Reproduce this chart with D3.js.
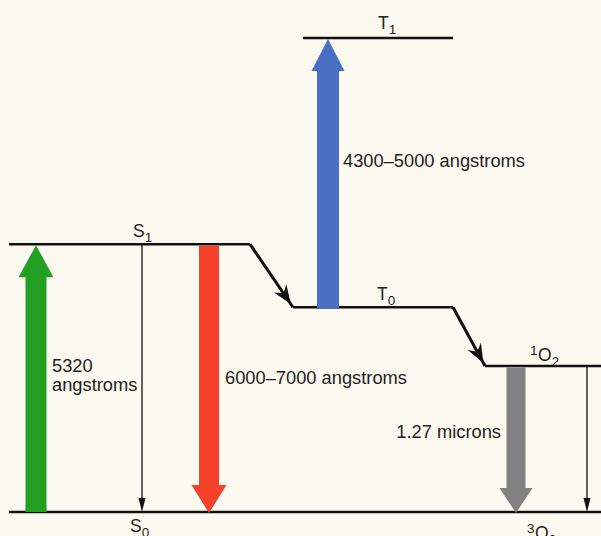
<!DOCTYPE html>
<html>
<head>
<meta charset="utf-8">
<script src="https://cdn.jsdelivr.net/npm/d3@7"></script>
<style>
  body { margin: 0; background: #fcf9f0; }
  svg { display: block; font-family: "Liberation Sans", Arial, sans-serif; }
</style>
</head>
<body>
<svg id="chart" width="601" height="536"></svg>
<script>
// energy levels (relative energy, 0 = ground state, 100 = T1)
const levelNames  = ["S0", "S1", "T0", "T1", "1O2"];
const levelEnergy = [0, 56.5, 43.2, 100, 30.8];
const levelStart  = [9, 9, 293, 303, 485];
const levelEnd    = [601, 250, 453, 453, 601];

// radiative transitions drawn as wide coloured arrows
const bandFrom   = ["S0", "S1", "T0", "1O2"];
const bandTo     = ["S1", "S0", "T1", "S0"];
const bandX      = [36, 209, 328, 516];
const bandLabels = [["5320", "angstroms"], ["6000\u20137000 angstroms"], ["4300\u20135000 angstroms"], ["1.27 microns"]];

// non-radiative decays (thin arrows)
const decayFrom = ["S1", "1O2"];
const decayTo   = ["S0", "S0"];
const decayX    = [142, 587];

// intersystem crossing / energy transfer (diagonal arrows)
const crossFrom = ["S1", "T0"];
const crossTo   = ["T0", "1O2"];

const svg = d3.select("#chart");
const width = 601, height = 536;

const y = d3.scaleLinear().domain([0, 100]).range([512, 38]);
const x = d3.scaleLinear().domain([0, width]).range([0, width]);

const lvl = name => levelNames.indexOf(name);
const yOf = name => y(levelEnergy[lvl(name)]);

// level lines
const levelIdx = levelNames.map((d, i) => i);
svg.append("g")
    .selectAll("line")
    .data(levelIdx)
    .enter()
    .append("line")
    .attr("x1", i => x(levelStart[i]))
    .attr("x2", i => x(levelEnd[i]))
    .attr("y1", i => y(levelEnergy[i]))
    .attr("y2", i => y(levelEnergy[i]))
    .attr("stroke", "#111")
    .attr("stroke-width", 2.6);

// diagonal connectors with barbed heads
crossFrom.forEach((f, i) => {
    const t = crossTo[i];
    const x0 = x(levelEnd[lvl(f)]), y0 = yOf(f);
    const x1 = x(levelStart[lvl(t)]), y1 = yOf(t);
    svg.append("line")
        .attr("x1", x0).attr("y1", y0)
        .attr("x2", x1).attr("y2", y1)
        .attr("stroke", "#111")
        .attr("stroke-width", 3);
    const ang = Math.atan2(y1 - y0, x1 - x0) * 180 / Math.PI;
    const tx = x0 + (x1 - x0) * 0.95, ty = y0 + (y1 - y0) * 0.95;
    svg.append("path")
        .attr("d", "M0,0 L-19,-7.5 L-13,0 L-19,7.5 Z")
        .attr("fill", "#111")
        .attr("transform", `translate(${tx},${ty}) rotate(${ang})`);
});

// wide arrows
const bandColors = ["#23a023", "#f5412a", "#4a70c4", "#818181"];
const shaftW = [21, 20, 22, 19];
const headW = [35, 35, 33, 33];
const headL = [32, 28, 32, 25];

function fatArrow(cx, yFrom, yTo, sw, hw, hl) {
    const dir = yTo < yFrom ? -1 : 1;
    const yb = yTo - dir * hl;
    return `M${cx - sw / 2},${yFrom} L${cx - sw / 2},${yb} L${cx - hw / 2},${yb} L${cx},${yTo} ` +
        `L${cx + hw / 2},${yb} L${cx + sw / 2},${yb} L${cx + sw / 2},${yFrom} Z`;
}

svg.append("g")
    .selectAll("path")
    .data(bandFrom.map((d, i) => i))
    .enter()
    .append("path")
    .attr("d", i => fatArrow(x(bandX[i]), yOf(bandFrom[i]) + (bandFrom[i] === "S0" ? 0 : 1.5),
        yOf(bandTo[i]) + 1, shaftW[i], headW[i], headL[i]))
    .attr("fill", i => bandColors[i]);

// thin arrows
decayFrom.forEach((f, i) => {
    const cx = x(decayX[i]);
    const y0 = yOf(f), y1 = yOf(decayTo[i]);
    svg.append("line")
        .attr("x1", cx).attr("x2", cx)
        .attr("y1", y0).attr("y2", y1 - 8)
        .attr("stroke", "#111")
        .attr("stroke-width", 1.3);
    svg.append("path")
        .attr("d", `M${cx - 3.5},${y1 - 14} L${cx + 3.5},${y1 - 14} L${cx},${y1} Z`)
        .attr("fill", "#111");
});

// transition labels
const labelPos = [[52, 372], [225, 384], [343, 167], [501, 438]];
const labelAnchor = ["start", "start", "start", "end"];
bandLabels.forEach((lines, i) => {
    const t = svg.append("text")
        .attr("x", labelPos[i][0])
        .attr("y", labelPos[i][1])
        .attr("text-anchor", labelAnchor[i])
        .attr("font-size", 18.3)
        .attr("fill", "#1e1e1e");
    lines.forEach((s, j) => {
        t.append("tspan")
            .attr("x", labelPos[i][0])
            .attr("dy", j === 0 ? 0 : 19)
            .text(s);
    });
});

// level names
const nameMain = ["S", "S", "T", "T", "O", "O"];
const nameSup  = ["", "", "", "", "1", "3"];
const nameSub  = ["1", "0", "1", "0", "2", "2"];
const namePos  = [[133, 237], [130, 532], [378, 29], [377, 300], [538, 361], [535, 539]];

nameMain.forEach((m, i) => {
    const t = svg.append("text")
        .attr("x", namePos[i][0])
        .attr("y", namePos[i][1])
        .attr("font-size", 17.5)
        .attr("fill", "#1e1e1e");
    if (nameSup[i]) {
        t.append("tspan")
            .attr("x", namePos[i][0] - 8)
            .attr("dy", -6)
            .attr("font-size", 13.5)
            .text(nameSup[i]);
        t.append("tspan")
            .attr("x", namePos[i][0])
            .attr("dy", 6)
            .text(m);
    } else {
        t.append("tspan").text(m);
    }
    t.append("tspan")
        .attr("dy", 5)
        .attr("font-size", 13.5)
        .text(nameSub[i]);
});
</script>
</body>
</html>
